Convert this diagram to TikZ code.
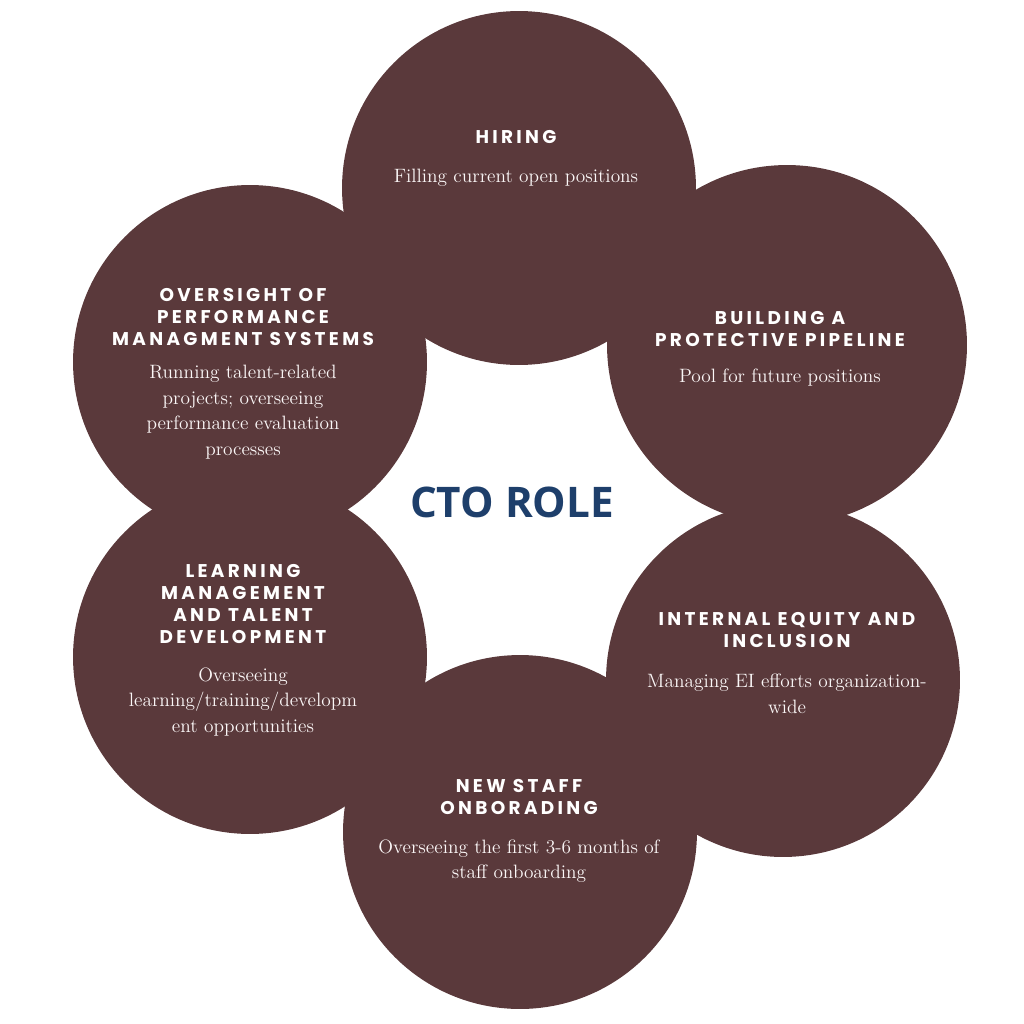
\documentclass[tikz,border=0pt]{standalone}
\usepackage{fontspec}
\newfontfamily\headfont[LetterSpace=18]{Poppins}
\newfontfamily\rolefont{Open Sans}

\definecolor{cto_petal}{HTML}{5A393B}
\definecolor{cto_role}{HTML}{1E3F6B}
\definecolor{cto_text}{HTML}{FBF7F7}

\begin{document}
\begin{tikzpicture}[x=0.02cm, y=-0.02cm,
    petal/.style={circle, fill=cto_petal, inner sep=0pt, minimum size=7.08cm},
    head/.style={text=white, align=center, inner sep=0pt,
      font=\headfont\bfseries\fontsize{10.5}{12.5}\selectfont},
    body/.style={text=cto_text, align=center, inner sep=0pt,
      font=\fontsize{11}{14.5}\selectfont}]
    \useasboundingbox (0,0) rectangle (1024,1024);

    \node[petal] (hiring) at (519,188) {};
    \node[petal, minimum size=7.2cm] (pipeline) at (787,345) {};
    \node[petal] (equity) at (783,680) {};
    \node[petal] (onboarding) at (520,832) {};
    \node[petal] (learning) at (250,657) {};
    \node[petal] (oversight) at (250,362) {};

    \node[text=cto_role, font=\rolefont\bfseries\fontsize{24}{28}\selectfont]
      (role) at (512,502) {CTO ROLE};

    \node[head] (hiring_h) at (516,137) {HIRING};
    \node[body] (hiring_b) at (516,178) {Filling current open positions};

    \node[head] (pipeline_h) at (780,329) {BUILDING A\\PROTECTIVE PIPELINE};
    \node[body] (pipeline_b) at (780,378) {Pool for future positions};

    \node[head] (equity_h) at (787,630) {INTERNAL EQUITY AND\\INCLUSION};
    \node[body] (equity_b) at (787,694) {Managing EI efforts organization-\\wide};

    \node[head] (onboarding_h) at (519,797) {NEW STAFF\\ONBORADING};
    \node[body] (onboarding_b) at (519,861)
      {Overseeing the first 3-6 months of\\staff onboarding};

    \node[head] (learning_h) at (243,604)
      {LEARNING\\MANAGEMENT\\AND TALENT\\DEVELOPMENT};
    \node[body] (learning_b) at (243,702)
      {Overseeing\\learning/training/developm\\ent opportunities};

    \node[head] (oversight_h) at (243,317)
      {OVERSIGHT OF\\PERFORMANCE\\MANAGMENT SYSTEMS};
    \node[body] (oversight_b) at (243,412)
      {Running talent-related\\projects; overseeing\\performance evaluation\\processes};
\end{tikzpicture}
\end{document}
